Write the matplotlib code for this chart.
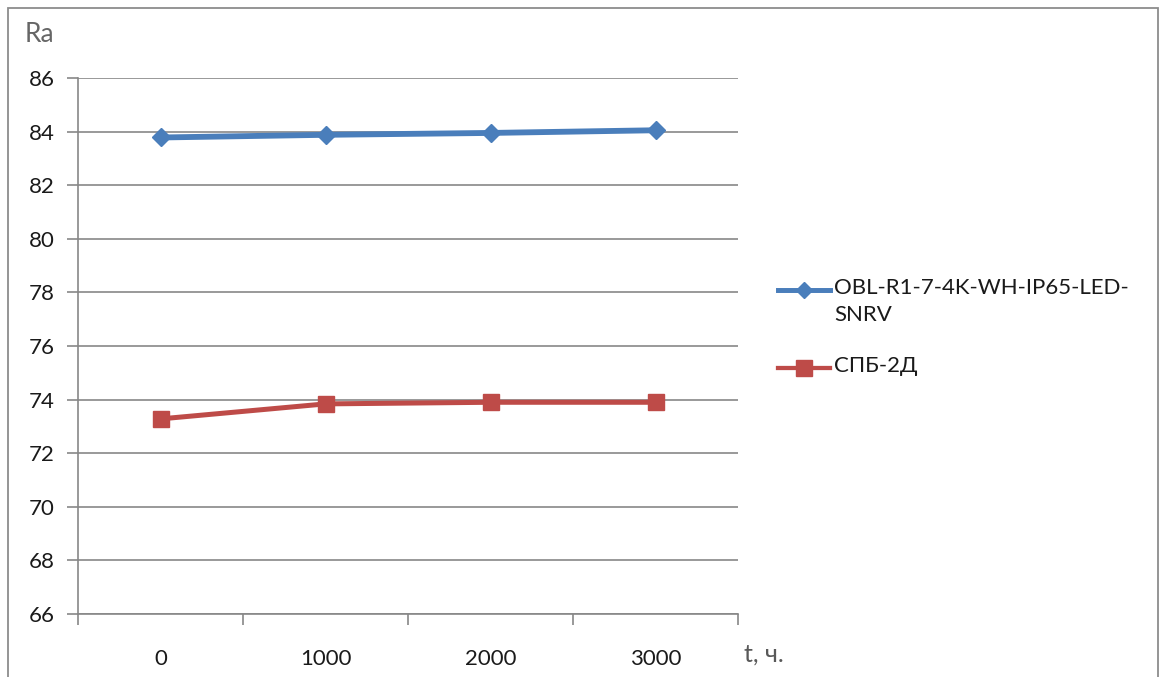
import matplotlib
matplotlib.use("Agg")
import matplotlib.pyplot as plt
from matplotlib.patches import Rectangle
from matplotlib.lines import Line2D
from matplotlib.ticker import FixedLocator

categories = ["0", "1000", "2000", "3000"]
obl_values = [83.78, 83.88, 83.95, 84.05]
spb_values = [73.28, 73.84, 73.9, 73.9]
series_names = ["OBL-R1-7-4K-WH-IP65-LED-\nSNRV", "СПБ-2Д"]
y_ticks = [66, 68, 70, 72, 74, 76, 78, 80, 82, 84, 86]

plt.rcParams['font.family'] = ['Lato', 'DejaVu Sans']

W, H = 1162, 677
fig = plt.figure(figsize=(W / 100, H / 100), dpi=100)
fig.patch.set_facecolor('white')

# outer frame
fig.add_artist(Rectangle((8 / W, -0.05), (1158 - 8) / W, 1.05 - 8 / H,
                         transform=fig.transFigure, fill=False,
                         edgecolor='#8c8c8c', linewidth=1.3))

ax = fig.add_axes([78 / W, 1 - 614 / H, (738 - 78) / W, (614 - 78) / H])
x = list(range(len(categories)))

blue = '#4a7ebb'
red = '#be4b48'
styles = [dict(color=blue, linewidth=4.2, marker='D', markersize=9),
          dict(color=red, linewidth=3.6, marker='s', markersize=12)]
ax.plot(x, obl_values, zorder=3, **styles[0])
ax.plot(x, spb_values, zorder=3, **styles[1])

ax.set_xlim(-0.5, len(categories) - 0.5)
ax.set_ylim(66, 86)
ax.set_yticks(y_ticks)
ax.yaxis.grid(True, color='#878787', linewidth=1.2)
ax.set_axisbelow(True)

ax.set_xticks(x)
ax.set_xticklabels(categories)
ax.xaxis.set_minor_locator(FixedLocator([i - 0.5 for i in range(len(categories) + 1)]))
ax.tick_params(axis='x', which='major', length=0, pad=25, labelsize=16, labelcolor='#1a1a1a')
ax.tick_params(axis='x', which='minor', length=8, color='#878787', width=1.2, direction='out')
ax.tick_params(axis='y', length=8, color='#878787', width=1.2, labelsize=16, pad=9,
               labelcolor='#1a1a1a')

for s in ['top', 'right']:
    ax.spines[s].set_visible(False)
for s in ['left', 'bottom']:
    ax.spines[s].set_color('#878787')
    ax.spines[s].set_linewidth(1.2)

fig.text(25 / W, 1 - 34 / H, "Ra", fontsize=19, color='#666666', va='center', ha='left')
fig.text(744 / W, 1 - 654 / H, "t, ч.", fontsize=18, color='#595959', va='center', ha='left')

# legend (drawn manually to match first-line alignment)
leg_rows = [290, 368]
for name, st, yy in zip(series_names, styles, leg_rows):
    yf = 1 - yy / H
    fig.add_artist(Line2D([778 / W, 830 / W], [yf, yf], transform=fig.transFigure,
                          color=st['color'], linewidth=st['linewidth'] * 0.85))
    fig.add_artist(Line2D([804 / W], [yf], transform=fig.transFigure,
                          color=st['color'], marker=st['marker'],
                          markersize=st['markersize'] * 0.95, linestyle='none'))
    fig.text(834 / W, yf + 12 / H, name, fontsize=16, color='#1a1a1a', va='top',
             ha='left', linespacing=1.45, transform=fig.transFigure)

fig.savefig("out.png", dpi=100)
